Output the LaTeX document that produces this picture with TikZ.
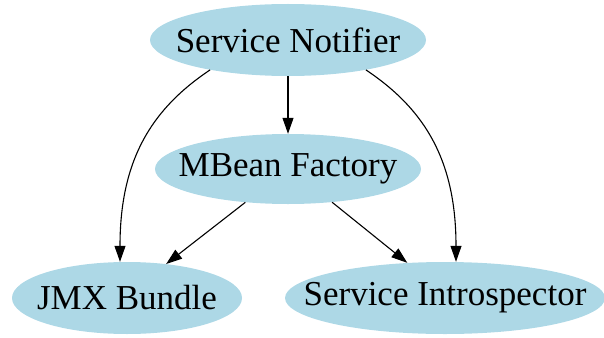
\documentclass[tikz,border=0pt]{standalone}
\usepackage{fontspec}
\setmainfont{Liberation Serif}
\usetikzlibrary{arrows.meta,shapes.geometric}
\definecolor{lightblue}{RGB}{173,216,230}
% the label takes no width, so the ellipse keeps its minimum size
\newcommand{\svcname}[1]{\makebox[0pt]{#1}}
\begin{document}
\begin{tikzpicture}[x=1pt,y=1pt,
        svc/.style={ellipse,fill=lightblue,inner sep=0pt,minimum height=72pt,font=\fontsize{35}{40}\selectfont},
        dep/.style={-{Triangle[length=16pt,width=11pt]},line width=1.1pt}]
        \useasboundingbox (0,0) rectangle (604,-337);
        \node[svc,minimum width=276pt] (notifier) at (288,-40) {\svcname{Service Notifier}};
        \node[svc,minimum width=266pt,minimum height=70pt] (factory) at (288,-169) {\svcname{MBean Factory}};
        \node[svc,minimum width=230pt] (bundle) at (127,-298) {\svcname{JMX Bundle}};
        \node[svc,minimum width=320pt] (introspector) at (445,-298) {\svcname{Service Introspector}};
        \draw[dep] (notifier.south) -- (factory.north);
        \draw[dep] (notifier.201) .. controls +(-60,-40) and +(0,100) .. ([xshift=-7pt]bundle.north);
        \draw[dep] (notifier.339) .. controls +(60,-40) and +(0,100) .. ([xshift=11pt]introspector.north);
        \draw[dep] (factory.218) -- (bundle.41);
        \draw[dep] (factory.323) -- (introspector.137);
    \end{tikzpicture}
\end{document}
